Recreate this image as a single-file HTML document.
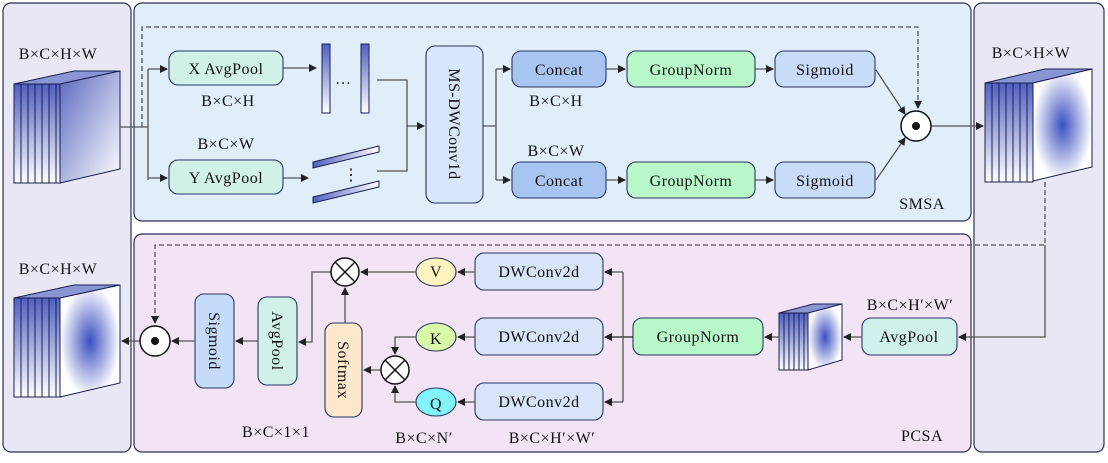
<!DOCTYPE html>
<html><head><meta charset="utf-8"><style>html,body{margin:0;padding:0;background:#fff}svg{display:block}text{font-family:"Liberation Serif",serif;font-size:16px;fill:#111;letter-spacing:0.5px}</style></head><body>
<svg width="1108" height="463" viewBox="0 0 1108 463" xmlns="http://www.w3.org/2000/svg">
<defs>
<marker id="a" markerWidth="8" markerHeight="8" refX="7" refY="4" orient="auto" markerUnits="userSpaceOnUse"><path d="M0,0 L8,4 L0,8z" fill="#222"/></marker>
<linearGradient id="g1" x1="0" y1="0" x2="1" y2="1"><stop offset="0" stop-color="#5a68c0"/><stop offset="1" stop-color="#fff"/></linearGradient>
<linearGradient id="gs" x1="0" y1="0" x2="0" y2="1"><stop offset="0" stop-color="#5060c0"/><stop offset="1" stop-color="#fff"/></linearGradient>
<linearGradient id="gh" x1="0" y1="0" x2="1" y2="0"><stop offset="0" stop-color="#5060c0"/><stop offset="1" stop-color="#fff"/></linearGradient>
<radialGradient id="gr"><stop offset="0" stop-color="#3a4fc0"/><stop offset="1" stop-color="#fff"/></radialGradient>
</defs>
<g stroke="#2a2f55" stroke-width="1.2">
<rect x="3" y="3" width="128" height="449" rx="8" fill="#e8e8f4"/>
<rect x="974" y="3" width="130" height="449" rx="8" fill="#e8e8f4"/>
<rect x="134" y="3" width="837" height="218" rx="8" fill="#e0eefa"/>
<rect x="134" y="234" width="837" height="218" rx="8" fill="#f2e4f4"/>
</g>
<g stroke="#1a1f50" stroke-width="1">
<g fill="url(#gs)">
<rect x="14" y="84" width="7" height="99"/><rect x="21" y="84" width="7" height="99"/><rect x="28" y="84" width="7" height="99"/><rect x="35" y="84" width="7" height="99"/><rect x="42" y="84" width="7" height="99"/><rect x="49" y="84" width="7" height="99"/><rect x="56" y="84" width="5" height="99"/>
</g>
<polygon points="14,84 60,84 120,71 74,71" fill="#8a96d4"/>
<polygon points="60,84 120,71 120,169 60,183" fill="url(#g1)"/>
<g fill="url(#gs)">
<rect x="14" y="298" width="7" height="99"/><rect x="21" y="298" width="7" height="99"/><rect x="28" y="298" width="7" height="99"/><rect x="35" y="298" width="7" height="99"/><rect x="42" y="298" width="7" height="99"/><rect x="49" y="298" width="7" height="99"/><rect x="56" y="298" width="5" height="99"/>
</g>
<polygon points="14,298 60,298 120,285 74,285" fill="#8a96d4"/>
<polygon points="60,298 120,285 120,383 60,397" fill="url(#gr)"/>
<g fill="url(#gs)">
<rect x="985" y="83" width="7" height="99"/><rect x="992" y="83" width="7" height="99"/><rect x="999" y="83" width="7" height="99"/><rect x="1006" y="83" width="7" height="99"/><rect x="1013" y="83" width="7" height="99"/><rect x="1020" y="83" width="7" height="99"/><rect x="1027" y="83" width="6" height="99"/>
</g>
<polygon points="985,83 1033,83 1092,69 1045,69" fill="#8a96d4"/>
<polygon points="1033,83 1092,69 1092,167 1033,181" fill="url(#gr)"/>
<g fill="url(#gs)">
<rect x="779" y="313" width="5" height="57"/><rect x="784" y="313" width="5" height="57"/><rect x="789" y="313" width="5" height="57"/><rect x="794" y="313" width="5" height="57"/><rect x="799" y="313" width="5" height="57"/><rect x="804" y="313" width="4" height="57"/>
</g>
<polygon points="779,313 808,313 842,304 813,304" fill="#8a96d4"/>
<polygon points="808,313 842,304 842,360 808,370" fill="url(#gr)"/>
<rect x="322" y="44" width="8" height="69" fill="url(#gs)"/>
<rect x="361" y="44" width="8" height="69" fill="url(#gs)"/>
<polygon points="313,162 379,146 379,152 313,168" fill="url(#gh)"/>
<polygon points="313,197 379,181 379,187 313,203" fill="url(#gh)"/>
</g>
<text x="335" y="84" font-size="14">…</text>
<text x="343" y="180" font-size="14">⋮</text>
<g stroke="#2a3560" stroke-width="1.1">
<rect x="169" y="51" width="114" height="34" rx="9" fill="#d0f0e8"/>
<rect x="169" y="160" width="114" height="34" rx="9" fill="#d0f0e8"/>
<rect x="426" y="46" width="57" height="157" rx="9" fill="#d8e6fa"/>
<rect x="512" y="51" width="94" height="36" rx="9" fill="#a8c4f0"/>
<rect x="512" y="162" width="94" height="36" rx="9" fill="#a8c4f0"/>
<rect x="627" y="51" width="128" height="36" rx="9" fill="#b8f8c8"/>
<rect x="627" y="162" width="128" height="36" rx="9" fill="#b8f8c8"/>
<rect x="775" y="51" width="100" height="36" rx="9" fill="#c8dcf8"/>
<rect x="775" y="162" width="100" height="36" rx="9" fill="#c8dcf8"/>
<rect x="475" y="253" width="128" height="37" rx="9" fill="#d8e4f8"/>
<rect x="475" y="318" width="128" height="37" rx="9" fill="#d8e4f8"/>
<rect x="475" y="383" width="128" height="37" rx="9" fill="#d8e4f8"/>
<rect x="633" y="318" width="130" height="37" rx="9" fill="#b8f8c8"/>
<rect x="862" y="318" width="95" height="37" rx="9" fill="#d0f0ec"/>
<rect x="325" y="323" width="37" height="94" rx="9" fill="#fde8cc"/>
<rect x="258" y="297" width="39" height="88" rx="9" fill="#d0f0e8"/>
<rect x="195" y="294" width="39" height="94" rx="9" fill="#c4dcf8"/>
<ellipse cx="436" cy="272" rx="20" ry="14" fill="#fff4c0"/>
<ellipse cx="436" cy="337" rx="20" ry="14" fill="#d8f8a8"/>
<ellipse cx="436" cy="402" rx="20" ry="14" fill="#80f4f8"/>
</g>
<g stroke="#555" stroke-width="1.3" fill="none">
<path d="M120,127 H148 M148,69 V180"/>
<path d="M148,69 H167" marker-end="url(#a)"/><path d="M148,178 H167" marker-end="url(#a)"/>
<path d="M283,68 H316" marker-end="url(#a)"/><path d="M283,178 H308" marker-end="url(#a)"/>
<path d="M377,80 H407 V171 H377"/><path d="M407,126 H424" marker-end="url(#a)"/>
<path d="M483,126 H496 M496,69 V180"/>
<path d="M496,69 H510" marker-end="url(#a)"/><path d="M496,180 H510" marker-end="url(#a)"/>
<path d="M606,69 H625" marker-end="url(#a)"/><path d="M606,180 H625" marker-end="url(#a)"/>
<path d="M755,69 H773" marker-end="url(#a)"/><path d="M755,180 H773" marker-end="url(#a)"/>
<path d="M876,70 L905,114" marker-end="url(#a)"/><path d="M876,180 L905,138" marker-end="url(#a)"/>
<path d="M931,126 H983" marker-end="url(#a)"/>
<path d="M142,127 V27 H918 V108" stroke-dasharray="5,3" marker-end="url(#a)"/>
<path d="M1045,182 V245 H155 V323" stroke-dasharray="5,3" marker-end="url(#a)"/>
<path d="M1045,245 V337 H959" marker-end="url(#a)"/>
<path d="M862,337 H844" marker-end="url(#a)"/>
<path d="M779,337 H765" marker-end="url(#a)"/>
<path d="M633,337 H605" stroke="#222" marker-end="url(#a)"/>
<path d="M623,272 V402"/>
<path d="M623,272 H605" marker-end="url(#a)"/><path d="M623,402 H605" marker-end="url(#a)"/>
<path d="M475,272 H458" marker-end="url(#a)"/><path d="M475,337 H458" marker-end="url(#a)"/><path d="M475,402 H458" marker-end="url(#a)"/>
<path d="M416,272 H361" marker-end="url(#a)"/>
<path d="M416,337 H395 V354" marker-end="url(#a)"/>
<path d="M416,402 H395 V386" marker-end="url(#a)"/>
<path d="M381,370 H364" marker-end="url(#a)"/>
<path d="M345,323 V288" marker-end="url(#a)"/>
<path d="M331,272 H312 V342 H299" marker-end="url(#a)"/>
<path d="M258,341 H236" marker-end="url(#a)"/>
<path d="M195,341 H172" marker-end="url(#a)"/>
<path d="M140,341 H122" marker-end="url(#a)"/>
</g>
<g stroke="#111" stroke-width="1.5" fill="#fff">
<circle cx="916" cy="126" r="15"/><circle cx="155" cy="341" r="15"/>
<circle cx="345" cy="272" r="14"/><circle cx="395" cy="370" r="14"/>
</g>
<circle cx="916" cy="126" r="4" fill="#111"/><circle cx="155" cy="341" r="4" fill="#111"/>
<path d="M335,262 L355,282 M355,262 L335,282 M385,360 L405,380 M405,360 L385,380" stroke="#111" stroke-width="1.5"/>
<g text-anchor="middle">
<text x="58" y="59">B×C×H×W</text>
<text x="1031" y="58">B×C×H×W</text>
<text x="58" y="274">B×C×H×W</text>
<text x="226" y="74">X AvgPool</text>
<text x="226" y="183">Y AvgPool</text>
<text x="228" y="106">B×C×H</text>
<text x="226" y="149">B×C×W</text>
<text x="559" y="75">Concat</text>
<text x="559" y="186">Concat</text>
<text x="556" y="106">B×C×H</text>
<text x="556" y="156">B×C×W</text>
<text x="691" y="75">GroupNorm</text>
<text x="691" y="186">GroupNorm</text>
<text x="825" y="75">Sigmoid</text>
<text x="825" y="186">Sigmoid</text>
<text x="922" y="209">SMSA</text>
<text x="922" y="441">PCSA</text>
<text x="539" y="277">DWConv2d</text>
<text x="539" y="342">DWConv2d</text>
<text x="539" y="407">DWConv2d</text>
<text x="698" y="342">GroupNorm</text>
<text x="909" y="342">AvgPool</text>
<text x="910" y="310">B×C×H′×W′</text>
<text x="436" y="277" font-size="14">V</text>
<text x="436" y="344" font-size="19">K</text>
<text x="436" y="409" font-size="19">Q</text>
<text x="276" y="437">B×C×1×1</text>
<text x="424" y="443">B×C×N′</text>
<text x="552" y="443">B×C×H′×W′</text>
<text transform="translate(449,124) rotate(90)">MS-DWConv1d</text>
<text transform="translate(338,370) rotate(90)">Softmax</text>
<text transform="translate(272,341) rotate(90)">AvgPool</text>
<text transform="translate(209,341) rotate(90)">Sigmoid</text>
</g>
</svg>
</body></html>
